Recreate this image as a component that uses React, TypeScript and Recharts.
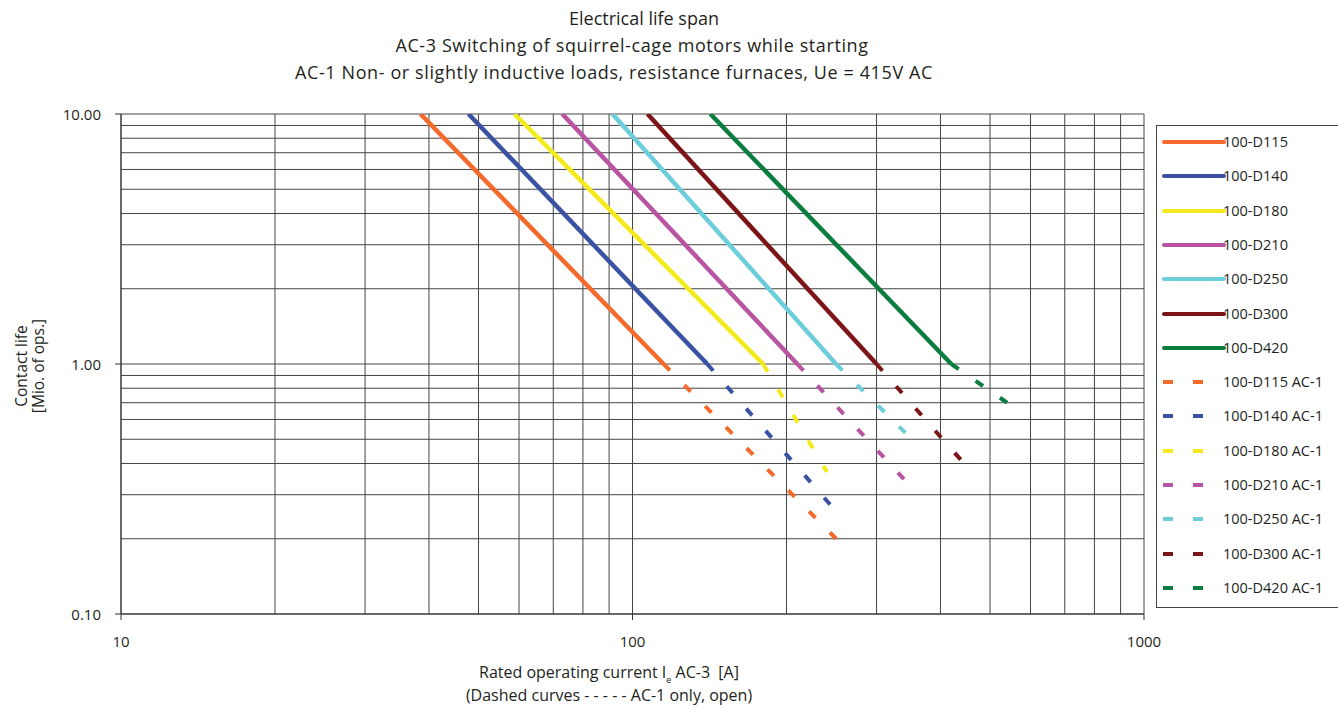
import React from "react"
import { LineChart, Line, XAxis, YAxis, CartesianGrid } from "recharts"

const FONT = "'Open Sans', sans-serif"
const TEXT = "#231f20"

const models = ["100-D115", "100-D140", "100-D180", "100-D210", "100-D250", "100-D300", "100-D420"]
const colors = ["#f5692a", "#3a52a3", "#f3ea1c", "#b954a2", "#6ccddb", "#7c1418", "#0a7d3f"]

// AC-3 curves: current at 10 Mio ops and at 1 Mio ops
const ac3Life = [10, 1]
const ac3StartCurrent = [38.5, 47.8, 58.8, 72.9, 91.4, 107, 142]
const ac3RatedCurrent = [115, 140, 180, 210, 250, 300, 420]

// AC-1 dashed curves: continue from rated point down to these
const ac1EndCurrent = [250, 245, 240, 340, 345, 440, 540]
const ac1EndLife = [0.2, 0.27, 0.37, 0.345, 0.52, 0.41, 0.7]

const xGridTicks = [10, 20, 30, 40, 50, 60, 70, 80, 90, 100, 200, 300, 400, 500, 600, 700, 800, 900, 1000]
const yGridTicks = [0.1, 0.2, 0.3, 0.4, 0.5, 0.6, 0.7, 0.8, 0.9, 1, 2, 3, 4, 5, 6, 7, 8, 9, 10]
const xLabels = [10, 100, 1000]
const yLabels = [0.1, 1, 10]

const titleLines = [
  { text: "Electrical life span", cx: 644, cy: 18, spacing: 0 },
  { text: "AC-3 Switching of squirrel-cage motors while starting", cx: 632, cy: 45, spacing: 0.6 },
  { text: "AC-1 Non- or slightly inductive loads, resistance furnaces, Ue = 415V AC", cx: 614, cy: 72, spacing: 0.6 },
]

const ac3Data = models.map((_, i) => [
  { x: ac3StartCurrent[i], y: ac3Life[0] },
  { x: ac3RatedCurrent[i], y: ac3Life[1] },
])
const ac1Data = models.map((_, i) => [
  { x: ac3RatedCurrent[i], y: ac3Life[1] },
  { x: ac1EndCurrent[i], y: ac1EndLife[i] },
])

const XTick = (props: any) => {
  const { x, y, payload } = props
  if (!xLabels.includes(payload.value)) return <g />
  return (
    <g>
      <line x1={x} x2={x} y1={y} y2={y + 6} stroke="#333" />
      <text x={x} y={y + 27} textAnchor="middle" dominantBaseline="central" fontSize={15} fill={TEXT} fontFamily={FONT}>
        {payload.value}
      </text>
    </g>
  )
}

const YTick = (props: any) => {
  const { x, y, payload } = props
  if (!yLabels.includes(payload.value)) return <g />
  return (
    <g>
      <line x1={x - 6} x2={x} y1={y} y2={y} stroke="#333" />
      <text x={x - 20} y={y} textAnchor="end" dominantBaseline="central" fontSize={15} fill={TEXT} fontFamily={FONT}>
        {payload.value.toFixed(2)}
      </text>
    </g>
  )
}

const LegendBox = () => (
  <div
    style={{
      position: "absolute",
      left: 1156,
      top: 125,
      width: 200,
      height: 483,
      border: "1px solid #444",
      boxSizing: "border-box",
      fontFamily: FONT,
      fontSize: 14.5,
      color: TEXT,
    }}
  >
    {[0, 1].map((kind) =>
      models.map((m, i) => {
        const row = kind * models.length + i
        return (
          <div key={m + kind} style={{ position: "absolute", left: 0, top: 16 + row * 34.3, height: 2 }}>
            <svg width={66} height={10} style={{ position: "absolute", left: 5, top: -5 }}>
              {kind === 0 ? (
                <line x1={2} x2={62} y1={5} y2={5} stroke={colors[i]} strokeWidth={4} strokeLinecap="round" />
              ) : (
                <g fill={colors[i]}>
                  <rect x={1} y={3} width={10} height={4} />
                  <rect x={31} y={3} width={10} height={4} />
                </g>
              )}
            </svg>
            <span style={{ position: "absolute", left: 66, top: -10, whiteSpace: "nowrap", lineHeight: "20px" }}>
              {kind === 0 ? m : m + " AC-1"}
            </span>
          </div>
        )
      })
    )}
  </div>
)

const centeredLine = (cx: number, cy: number, size: number): React.CSSProperties => ({
  position: "absolute",
  left: cx - 400,
  width: 800,
  top: cy - 10,
  height: 20,
  lineHeight: "20px",
  textAlign: "center",
  fontSize: size,
  color: TEXT,
  whiteSpace: "nowrap",
})

export default function App() {
  return (
    <div style={{ position: "absolute", left: 0, top: 0, width: 1338, height: 707, overflow: "hidden", background: "#fff", fontFamily: FONT }}>
      {titleLines.map((t) => (
        <div key={t.text} style={{ ...centeredLine(t.cx, t.cy, 18), letterSpacing: t.spacing }}>
          {t.text}
        </div>
      ))}

      <LineChart width={1338} height={707} margin={{ top: 114, right: 194, bottom: 63, left: 61 }}>
        <CartesianGrid stroke="#444" strokeWidth={1} />
        <XAxis
          dataKey="x"
          type="number"
          scale="log"
          domain={[10, 1000]}
          ticks={xGridTicks}
          interval={0}
          allowDataOverflow
          tick={<XTick />}
          tickLine={false}
          tickSize={0}
          tickMargin={0}
          height={30}
          axisLine={{ stroke: "#333" }}
        />
        <YAxis
          dataKey="y"
          type="number"
          scale="log"
          domain={[0.1, 10]}
          ticks={yGridTicks}
          interval={0}
          allowDataOverflow
          tick={<YTick />}
          tickLine={false}
          tickSize={0}
          tickMargin={0}
          width={60}
          axisLine={{ stroke: "#333" }}
        />
        {ac3Data.map((d, i) => (
          <Line
            key={models[i]}
            data={d}
            dataKey="y"
            name={models[i]}
            type="linear"
            stroke={colors[i]}
            strokeWidth={4.5}
            dot={false}
            activeDot={false}
            isAnimationActive={false}
          />
        ))}
        {ac1Data.map((d, i) => (
          <Line
            key={models[i] + " AC-1"}
            data={d}
            dataKey="y"
            name={models[i] + " AC-1"}
            type="linear"
            stroke={colors[i]}
            strokeWidth={4}
            strokeDasharray="9 20.6"
            dot={false}
            activeDot={false}
            isAnimationActive={false}
          />
        ))}
      </LineChart>

      <div style={{ position: "absolute", left: 0, top: 366, width: 0, height: 0 }}>
        <div
          style={{
            position: "absolute",
            left: 30,
            top: 0,
            transform: "translate(-50%, -50%) rotate(-90deg)",
            whiteSpace: "nowrap",
            textAlign: "center",
            fontSize: 15.5,
            lineHeight: "17px",
            color: TEXT,
          }}
        >
          Contact life
          <br />
          [Mio. of ops.]
        </div>
      </div>

      <div style={centeredLine(609, 672, 16)}>
        Rated operating current I
        <span style={{ fontSize: 9, position: "relative", top: 5 }}>e</span> AC-3&nbsp;&nbsp;[A]
      </div>
      <div style={centeredLine(609, 695, 16)}>(Dashed curves - - - - - AC-1 only, open)</div>

      <LegendBox />
    </div>
  )
}
